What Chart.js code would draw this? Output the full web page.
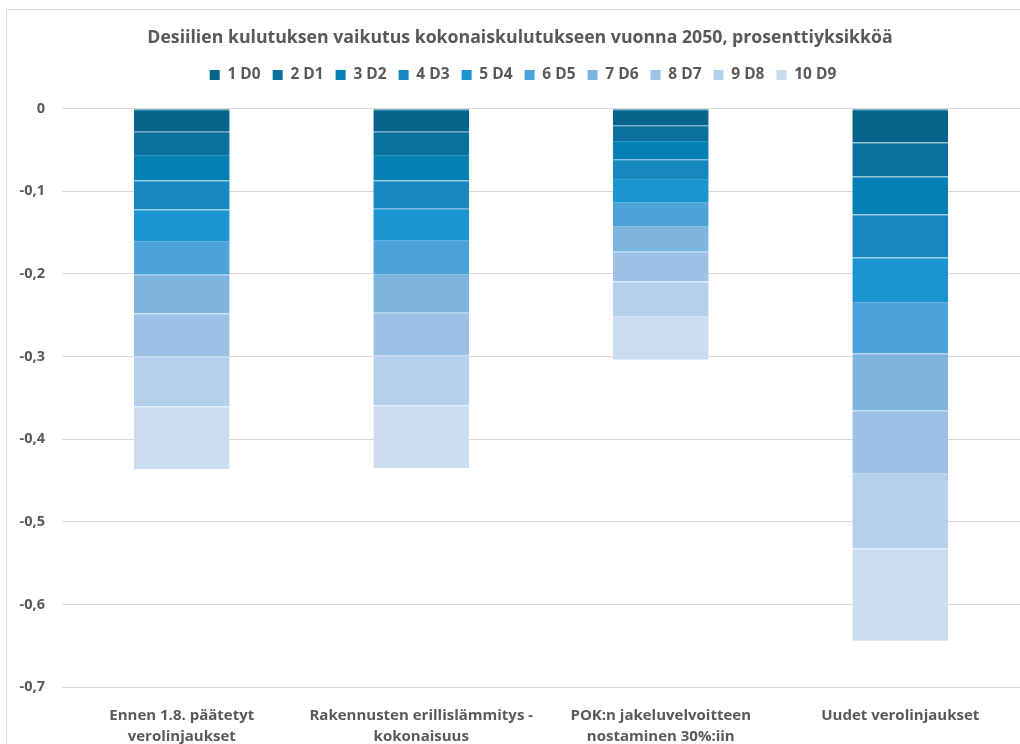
<!DOCTYPE html>
<html lang="fi">
<head>
<meta charset="utf-8">
<title>Desiilien kulutuksen vaikutus</title>
<script src="https://cdn.jsdelivr.net/npm/chart.js@4"></script>
<style>
  html, body { margin: 0; padding: 0; background: #fff; overflow: hidden; }
  #wrap { position: relative; width: 1020px; height: 744px; }
</style>
</head>
<body>
<div id="wrap"><canvas id="chart" width="1020" height="744"></canvas></div>
<script>
const categories = [
  ["Ennen 1.8. päätetyt", "verolinjaukset"],
  ["Rakennusten erillislämmitys -", "kokonaisuus"],
  ["POK:n jakeluvelvoitteen", "nostaminen 30%:iin"],
  ["Uudet verolinjaukset"]
];

const seriesNames = ["1 D0", "2 D1", "3 D2", "4 D3", "5 D4", "6 D5", "7 D6", "8 D7", "9 D8", "10 D9"];

// one array per decile, values for the four categories
const d0 = [-0.028, -0.028, -0.020, -0.041];
const d1 = [-0.028, -0.028, -0.019, -0.041];
const d2 = [-0.031, -0.031, -0.022, -0.046];
const d3 = [-0.035, -0.034, -0.024, -0.052];
const d4 = [-0.038, -0.038, -0.028, -0.054];
const d5 = [-0.041, -0.041, -0.029, -0.062];
const d6 = [-0.047, -0.047, -0.031, -0.069];
const d7 = [-0.052, -0.052, -0.036, -0.076];
const d8 = [-0.060, -0.060, -0.042, -0.091];
const d9 = [-0.076, -0.076, -0.053, -0.112];
const seriesValues = [d0, d1, d2, d3, d4, d5, d6, d7, d8, d9];

const yTicks = [0, -0.1, -0.2, -0.3, -0.4, -0.5, -0.6, -0.7];

const colors = [
  "#04648c", "#0b709e", "#0480b5", "#1787c0", "#1b95d2",
  "#4ca3da", "#7eb4e0", "#9cc1e4", "#b4d0eb", "#cbdcee"
];
// slightly lighter edge for each segment
const edges = [
  "#2a7aa0", "#2d83ac", "#2a93c0", "#3896c8", "#3aa3d8",
  "#66b0df", "#92c0e5", "#acCbe8", "#c1d8ee", "#d5e3f1"
];

const textColor = "#595959";
const fontFamily = "'Open Sans', 'Liberation Sans', sans-serif";

const frame = {
  id: "frame",
  beforeDraw(chart) {
    const ctx = chart.ctx;
    ctx.save();
    ctx.fillStyle = "#fff";
    ctx.fillRect(0, 0, chart.width, chart.height);
    ctx.strokeStyle = "#d9d9d9";
    ctx.lineWidth = 1;
    ctx.strokeRect(6.5, 9.5, 1100, 800);
    ctx.restore();
  }
};

// extra room between the legend and the plot area
const legendGap = {
  id: "legendGap",
  beforeInit(chart) {
    const fit = chart.legend.fit;
    chart.legend.fit = function () {
      fit.call(this);
      this.height += 16;
    };
  },
  afterLayout(chart) {
    // title and legend sit a little right of the canvas centre
    chart.titleBlock.left += 10;
    chart.titleBlock.right += 10;
    chart.legend.left += 13;
    chart.legend.right += 13;
  }
};

new Chart(document.getElementById("chart"), {
  type: "bar",
  data: {
    labels: categories,
    datasets: seriesNames.map((name, i) => ({
      label: name,
      data: seriesValues[i],
      backgroundColor: colors[i],
      borderColor: edges[i],
      borderWidth: { top: 1, bottom: 0, left: 0, right: 0 },
      borderSkipped: false,
      categoryPercentage: 1,
      barPercentage: 0.4
    }))
  },
  options: {
    responsive: false,
    animation: false,
    layout: { padding: { left: 0, right: 0, top: 18, bottom: 0 } },
    plugins: {
      title: {
        display: true,
        text: "Desiilien kulutuksen vaikutus kokonaiskulutukseen vuonna 2050, prosenttiyksikköä",
        color: textColor,
        font: { family: fontFamily, size: 17.7, weight: "bold" },
        padding: { top: 9, bottom: 7 }
      },
      legend: {
        position: "top",
        labels: {
          color: textColor,
          font: { family: fontFamily, size: 15.5, weight: "bold" },
          boxWidth: 10,
          boxHeight: 10,
          padding: 12,
          generateLabels(chart) {
            return chart.data.datasets.map((ds, i) => ({
              text: ds.label,
              fillStyle: colors[i],
              strokeStyle: colors[i],
              lineWidth: 0,
              fontColor: textColor,
              datasetIndex: i
            }));
          }
        }
      },
      tooltip: { enabled: false }
    },
    scales: {
      x: {
        stacked: true,
        grid: { display: false },
        border: { display: false },
        ticks: {
          color: textColor,
          font: { family: fontFamily, size: 15, weight: "bold", lineHeight: 1.4 },
          maxRotation: 0,
          padding: 10
        },
        afterFit(scale) { scale.height = 57; }
      },
      y: {
        stacked: true,
        min: -0.7,
        max: 0,
        afterBuildTicks(scale) { scale.ticks = yTicks.map(v => ({ value: v })); },
        grid: { color: "#d9d9d9", drawTicks: false },
        border: { display: false },
        ticks: {
          color: textColor,
          font: { family: fontFamily, size: 14.5, weight: "bold" },
          padding: 17,
          callback: v => v === 0 ? "0" : (Math.round(v * 10) / 10).toFixed(1).replace(".", ",")
        },
        afterFit(scale) { scale.width = 62; }
      }
    }
  },
  plugins: [frame, legendGap]
});
</script>
</body>
</html>
